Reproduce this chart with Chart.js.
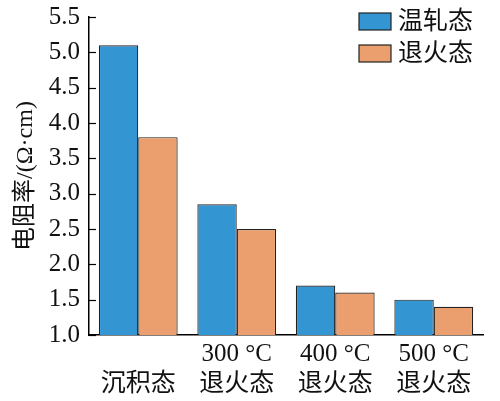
<!DOCTYPE html>
<html>
<head>
<meta charset="utf-8">
<script src="https://cdn.jsdelivr.net/npm/chart.js@4"></script>
<style>
    html, body { margin: 0; padding: 0; background: #fff; }
    #wrap { width: 500px; height: 401px; }
</style>
</head>
<body>
<div id="wrap"><canvas id="resChart" width="500" height="401"></canvas></div>
<script>

// =====================
// DATA
// =====================

const CATEGORIES = [
    ['', '沉积态'],
    ['300 °C', '退火态'],
    ['400 °C', '退火态'],
    ['500 °C', '退火态']
];
const SERIES_NAMES = ['温轧态', '退火态'];
const WARM_ROLLED = [5.1, 2.85, 1.7, 1.5];
const ANNEALED = [3.8, 2.5, 1.6, 1.4];
const Y_TICKS = [1.0, 1.5, 2.0, 2.5, 3.0, 3.5, 4.0, 4.5, 5.0, 5.5];

const FONT = "'Liberation Serif', 'Noto Sans CJK SC', serif";
const BLUE = '#3495d3';
const ORANGE = '#eb9f6f';


// inward tick marks on the y axis
const innerTicks = {
    id: 'innerTicks',
    afterDraw(chart) {
        const ctx = chart.ctx;
        const y = chart.scales.y;
        ctx.save();
        ctx.strokeStyle = '#000';
        ctx.lineWidth = 1.2;
        Y_TICKS.forEach(v => {
            const py = Math.round(y.getPixelForValue(v)) + 0.5;
            ctx.beginPath();
            ctx.moveTo(y.right, py);
            ctx.lineTo(y.right + 7, py);
            ctx.stroke();
        });
        ctx.restore();
    }
};

// legend boxes in the upper right corner
const cornerLegend = {
    id: 'cornerLegend',
    afterDraw(chart) {
        const ctx = chart.ctx;
        ctx.save();
        ctx.font = "25px " + FONT;
        ctx.textBaseline = 'middle';
        chart.data.datasets.forEach((ds, i) => {
            const top = 13 + i * 32;
            ctx.fillStyle = ds.backgroundColor;
            ctx.fillRect(359, top, 32, 17);
            ctx.strokeStyle = '#222';
            ctx.lineWidth = 1.2;
            ctx.strokeRect(359, top, 32, 17);
            ctx.fillStyle = '#111';
            ctx.fillText(ds.label, 398, top + 9);
        });
        ctx.restore();
    }
};

new Chart(document.getElementById('resChart'), {
    type: 'bar',
    data: {
        labels: CATEGORIES,
        datasets: [{
            label: SERIES_NAMES[0],
            data: WARM_ROLLED,
            backgroundColor: BLUE,
            borderColor: '#222',
            borderWidth: 1.2,
            borderSkipped: 'bottom'
        }, {
            label: SERIES_NAMES[1],
            data: ANNEALED,
            backgroundColor: ORANGE,
            borderColor: '#222',
            borderWidth: 1.2,
            borderSkipped: 'bottom'
        }]
    },
    options: {
        responsive: false,
        maintainAspectRatio: false,
        animation: false,
        devicePixelRatio: 1,
        layout: { padding: { left: 11, top: 17, right: 17, bottom: 0 } },
        plugins: {
            legend: { display: false },
            tooltip: { enabled: false }
        },
        datasets: {
            bar: { categoryPercentage: 0.8, barPercentage: 1.0 }
        },
        scales: {
            x: {
                grid: { display: false, drawTicks: false },
                border: { color: '#000', width: 1.5 },
                ticks: {
                    color: '#111',
                    padding: 4,
                    maxRotation: 0,
                    font: { family: FONT, size: 25, lineHeight: 1.2 }
                },
                afterFit(scale) {
                    scale.height = 66;
                    scale.paddingLeft = 0;
                    scale.paddingRight = 0;
                }
            },
            y: {
                min: 1,
                max: 5.5,
                afterBuildTicks(scale) {
                    scale.ticks = Y_TICKS.map(v => ({ value: v }));
                },
                grid: { display: false, drawTicks: false },
                border: { color: '#000', width: 1.5 },
                ticks: {
                    color: '#111',
                    padding: 9,
                    font: { family: FONT, size: 25 },
                    callback: v => v.toFixed(1)
                },
                title: {
                    display: true,
                    text: '电阻率/(Ω·cm)',
                    color: '#111',
                    padding: { top: 0, bottom: 0 },
                    font: { family: FONT, size: 24 }
                },
                afterFit(scale) {
                    scale.width = 78;
                    scale.paddingTop = 0;
                    scale.paddingBottom = 0;
                }
            }
        }
    },
    plugins: [innerTicks, cornerLegend]
});

</script>
</body>
</html>
